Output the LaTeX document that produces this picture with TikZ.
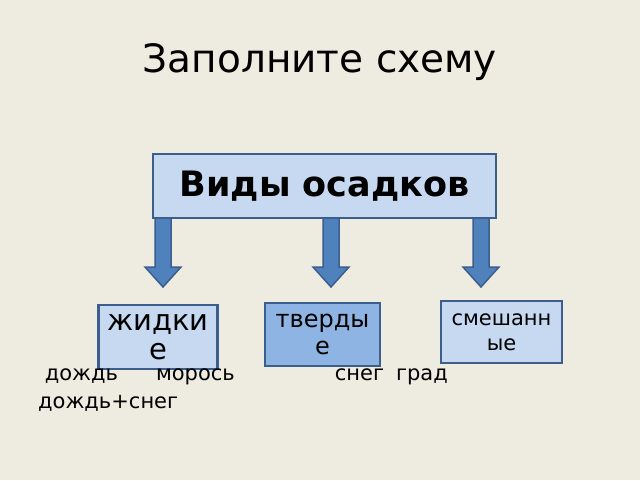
\documentclass[tikz,border=0pt]{standalone}
\usepackage{fontspec}
\setmainfont{DejaVu Sans}
\usetikzlibrary{positioning}
\definecolor{bgcol}{HTML}{EEEBE0}
\definecolor{boxfill}{HTML}{C6D9F1}
\definecolor{darkfill}{HTML}{8EB4E3}
\definecolor{edgecol}{HTML}{3B5E8C}
\definecolor{arrowfill}{HTML}{4F81BD}
\tikzset{
  kindbox/.style={draw=edgecol,line width=2.5pt,fill=boxfill,align=center,
    inner sep=2pt},
  downarrow/.style={draw=edgecol,line width=1.5pt,fill=arrowfill}
}
\newcommand\blockarrow[3]{% x, top y, bottom y
  \draw[downarrow] (#1-8,#2) -- (#1+8,#2) -- (#1+8,#3-20) -- (#1+18,#3-20)
    -- (#1,#3) -- (#1-18,#3-20) -- (#1-8,#3-20) -- cycle;}
\begin{document}
\begin{tikzpicture}[x=1pt,y=-1pt]
  \fill[bgcol] (0,0) rectangle (640,480);
  \useasboundingbox (0,0) rectangle (640,480);
  \node (title) at (320,62) {\fontsize{39}{40}\selectfont Заполните схему};
  % arrows
  \blockarrow{163}{216}{287}
  \blockarrow{331}{216}{287}
  \blockarrow{481}{216}{287}
  \node[kindbox,minimum width=343pt,minimum height=64pt,
    font=\bfseries\fontsize{35}{35}\selectfont] (kinds) at (324.5,186) {Виды осадков};
  \node[kindbox,minimum width=119pt,minimum height=64pt,
    font=\fontsize{29}{29}\selectfont] (liquid) at (158,337) {жидки\\е};
  \node[kindbox,fill=darkfill,minimum width=115pt,minimum height=63pt,
    font=\fontsize{24}{27}\selectfont] (solid) at (322.5,334.5) {тверды\\е};
  \node[kindbox,minimum width=121pt,minimum height=62pt,
    font=\fontsize{21}{25}\selectfont] (mixed) at (501.5,332) {смешанн\\ые};
  \node[anchor=west,inner sep=0pt,font=\fontsize{21}{22}\selectfont] (examples) at (38,377)
    {\ дождь\hspace{38pt}морось\hspace{100pt}снег\hspace{12pt}град};
  \node[anchor=west,inner sep=0pt,font=\fontsize{21}{22}\selectfont] (mixex) at (38,403)
    {дождь+снег};
\end{tikzpicture}
\end{document}
